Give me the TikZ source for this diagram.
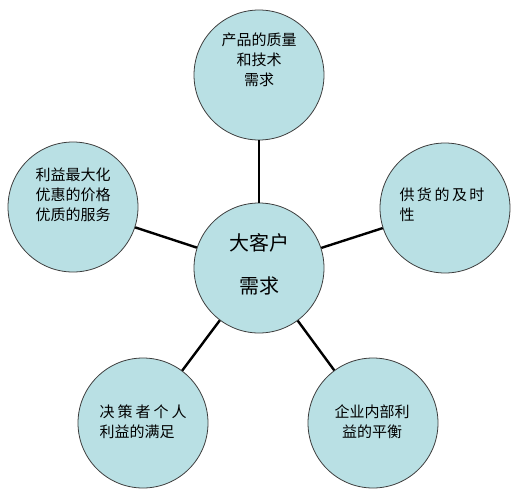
\documentclass[tikz,border=0pt]{standalone}
\usepackage{fontspec}
\usepackage{tikz}
\setmainfont{Noto Sans CJK SC}
\usetikzlibrary{positioning, calc}
\definecolor{bubblefill}{HTML}{B9E0E4}
\definecolor{bubbleline}{HTML}{3C3C3C}

\begin{document}
\begin{tikzpicture}[
    x=1pt, y=-1pt,
    bubble/.style={circle, draw=bubbleline, fill=bubblefill, line width=0.8pt,
                   minimum size=130pt, inner sep=0pt},
    txt/.style={font=\fontsize{15}{20}\selectfont, inner sep=0pt},
    link/.style={line width=2.4pt, black},
]
    \useasboundingbox (0,0) rectangle (516,500);

    \coordinate (hubC) at (259,268);
    \coordinate (topC) at (259,75);
    \coordinate (leftC) at (73,207);
    \coordinate (rightC) at (445,208);
    \coordinate (lowLC) at (143,423);
    \coordinate (lowRC) at (373,423);

    % circles
    \node[bubble] (hub) at (hubC) {};
    \node[bubble] (top) at (topC) {};
    \node[bubble] (left) at (leftC) {};
    \node[bubble] (right) at (rightC) {};
    \node[bubble] (lowL) at (lowLC) {};
    \node[bubble] (lowR) at (lowRC) {};

    % connectors, border to border
    \draw[link] (hub) -- (top);
    \draw[link] (hub) -- (left);
    \draw[link] (hub) -- (right);
    \draw[link] (hub) -- (lowL);
    \draw[link] (hub) -- (lowR);

    % texts
    \node[font=\fontsize{20}{43}\selectfont, align=center, inner sep=0pt] (hubText)
        at ([yshift=4pt]hub.center) {大客户\\需求};
    \node[txt, align=center] (topText) at ([yshift=15pt]top.center)
        {产品的质量\\和技术\\需求};
    \node[txt, align=left] (leftText) at ([yshift=12pt]left.center)
        {利益最大化\\优惠的价格\\优质的服务};
    \node[txt, align=left] (rightText) at ([xshift=-3pt, yshift=3pt]right.center)
        {供\,货\,的\,及\,时\\性};
    \node[txt, align=left] (lowLText) at ([yshift=1pt]lowL.center)
        {决\hspace{3pt}策\hspace{3pt}者\hspace{3pt}个\hspace{3pt}人\\利益的满足};
    \node[txt, align=center] (lowRText) at ([xshift=-1pt, yshift=1pt]lowR.center)
        {企业内部利\\益的平衡};
\end{tikzpicture}
\end{document}
